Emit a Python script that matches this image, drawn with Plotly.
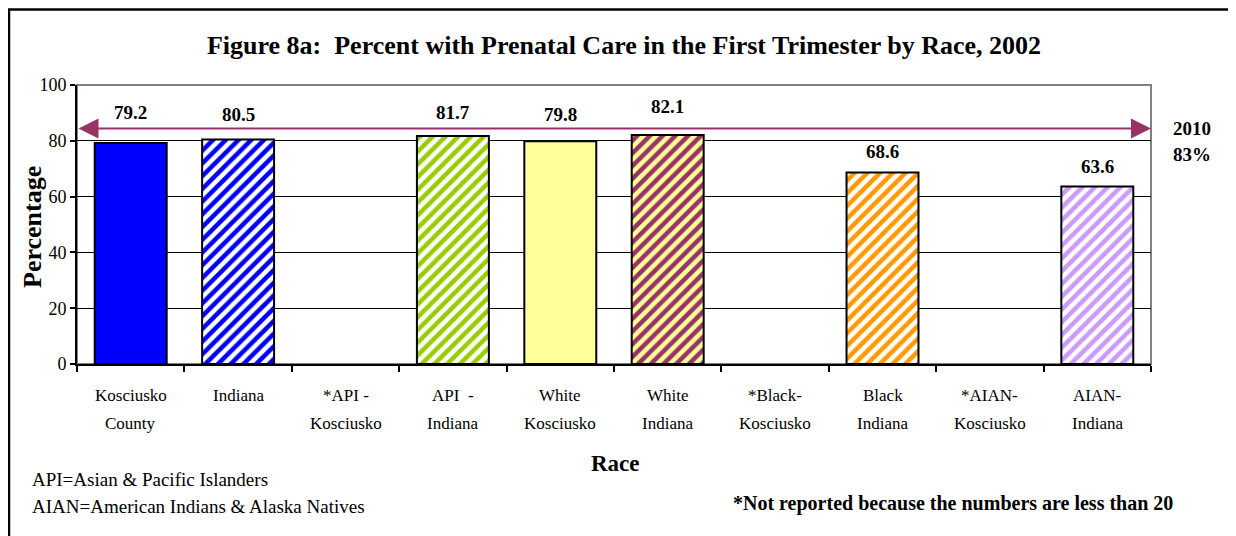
import plotly.graph_objects as go

# chart data
CATEGORIES = [
    "Kosciusko County", "Indiana", "*API - Kosciusko", "API - Indiana",
    "White Kosciusko", "White Indiana", "*Black-Kosciusko", "Black Indiana",
    "*AIAN-Kosciusko", "AIAN-Indiana",
]
LABEL_LINE1 = ["Kosciusko", "Indiana", "*API -", "API  -", "White", "White",
               "*Black-", "Black", "*AIAN-", "AIAN-"]
LABEL_LINE2 = ["County", "", "Kosciusko", "Indiana", "Kosciusko", "Indiana",
               "Kosciusko", "Indiana", "Kosciusko", "Indiana"]
PERCENT = [79.2, 80.5, None, 81.7, 79.8, 82.1, None, 68.6, None, 63.6]
TARGET_2010 = 83
Y_TICKS = [0, 20, 40, 60, 80, 100]

# styling per bar: stripe (or solid) colour and the background behind the stripes
BAR_FG = ["#0000FF", "#0000FF", "#000000", "#99CC00", "#FFFF99",
          "#993366", "#000000", "#FF9900", "#000000", "#CC99FF"]
BAR_BG = ["#0000FF", "#FFFFFF", "#FFFFFF", "#FFFFFF", "#FFFF99",
          "#FFFF99", "#FFFFFF", "#FFFFFF", "#FFFFFF", "#FFFFFF"]
PAT_SHAPE = ["", "/", "", "/", "", "/", "", "/", "", "/"]
LABEL_SHIFT = [31, 25, 0, 24, 27, 28, 0, 21, 0, 20]

FONT = "Liberation Serif"
PAGE_PAD = 8  # browser body margin
W, H = 1236 - PAGE_PAD, 536 - PAGE_PAD
L, R, T, B = 77 - PAGE_PAD, 85, 85 - PAGE_PAD, 172
PW, PH = W - L - R, H - T - B


def px_x(px):
    return (px - PAGE_PAD - L) / PW


def px_y(py):
    return (H - B - (py - PAGE_PAD)) / PH


def note(x, y, text, size, **kw):
    d = dict(x=px_x(x), y=px_y(y), xref="paper", yref="paper", text=text,
             showarrow=False, xanchor="center", yanchor="middle",
             font=dict(family=FONT, size=size, color="black"))
    d.update(kw)
    return d


fig = go.Figure()
# one trace per bar so each can carry its own stripe colours
for cat, val, fg, bg, shape in zip(CATEGORIES, PERCENT, BAR_FG, BAR_BG, PAT_SHAPE):
    if val is None:
        continue
    fig.add_trace(go.Bar(
        x=[cat],
        y=[val],
        width=0.67,
        marker=dict(
            color=bg,
            line=dict(color="black", width=2),
            pattern=dict(shape=shape, fgcolor=fg, fgopacity=1, size=9, solidity=0.5,
                         fillmode="overlay"),
        ),
        hoverinfo="skip",
    ))

annotations = []
for cat, val, dy in zip(CATEGORIES, PERCENT, LABEL_SHIFT):
    if val is None:
        continue
    annotations.append(dict(x=cat, y=val, yshift=dy, text=f"<b>{val}</b>", showarrow=False,
                            xanchor="center", yanchor="middle",
                            font=dict(family=FONT, size=19, color="black")))

for cat, l1, l2 in zip(CATEGORIES, LABEL_LINE1, LABEL_LINE2):
    annotations.append(dict(x=cat, xref="x", y=px_y(395), yref="paper", text=l1,
                            showarrow=False, xanchor="center", yanchor="middle",
                            font=dict(family=FONT, size=17, color="black")))
    if l2:
        annotations.append(dict(x=cat, xref="x", y=px_y(423), yref="paper", text=l2,
                                showarrow=False, xanchor="center", yanchor="middle",
                                font=dict(family=FONT, size=17, color="black")))

# 2010 target arrow across the plot
annotations.append(dict(x=9.5, y=TARGET_2010, ax=-0.5, ay=TARGET_2010, xref="x", yref="y",
                        axref="x", ayref="y", yshift=4, text="", showarrow=True,
                        arrowside="end+start", arrowhead=2, arrowsize=2,
                        arrowwidth=2, arrowcolor="#993366"))
annotations += [
    note(1192, 128, "<b>2010</b>", 19),
    note(1192, 154, f"<b>{TARGET_2010}%</b>", 19),
    note(33, 227, "<b>Percentage</b>", 26, textangle=-90),
    note(615, 463, "<b>Race</b>", 23),
    note(30, 479, "API=Asian &amp; Pacific Islanders", 19, xanchor="left"),
    note(30, 506, "AIAN=American Indians &amp; Alaska Natives", 19, xanchor="left"),
    note(1175, 504, "<b>*Not reported because the numbers are less than 20</b>", 20,
         xanchor="right"),
]

shapes = [
    # gray plot-area frame (top/right)
    dict(type="rect", xref="paper", yref="paper", x0=0, x1=1, y0=0, y1=1,
         line=dict(color="#808080", width=2), layer="below"),
    # outer chart border
    dict(type="rect", xref="paper", yref="paper", x0=px_x(9), x1=px_x(1260),
         y0=px_y(560), y1=px_y(PAGE_PAD + 1.5), line=dict(color="black", width=2.5)),
]

fig.update_layout(
    width=W,
    height=H,
    margin=dict(l=L, r=R, t=T, b=B),
    paper_bgcolor="white",
    plot_bgcolor="white",
    showlegend=False,
    barmode="overlay",
    title=dict(
        text="<b>Figure 8a:  Percent with Prenatal Care in the First Trimester by Race, 2002</b>",
        x=(624 - PAGE_PAD) / W, xanchor="center", y=1 - (45 - PAGE_PAD) / H, yanchor="middle",
        font=dict(family=FONT, size=26, color="black"),
    ),
    annotations=annotations,
    shapes=shapes,
)
fig.update_xaxes(
    type="category", categoryorder="array", categoryarray=CATEGORIES,
    range=[-0.5, len(CATEGORIES) - 0.5],
    showticklabels=False, ticks="outside", tickson="boundaries", ticklen=6,
    tickcolor="black", tickwidth=2, showline=True, linecolor="black", linewidth=2,
    showgrid=False,
)
fig.update_yaxes(
    range=[0, 100], tickvals=Y_TICKS, ticks="outside", ticklen=5, tickcolor="black",
    tickwidth=2, showline=True, linecolor="black", linewidth=2, showgrid=True,
    gridcolor="black", gridwidth=1, zeroline=False,
    tickfont=dict(family=FONT, size=18, color="black"),
)

fig.write_html("out.html")
